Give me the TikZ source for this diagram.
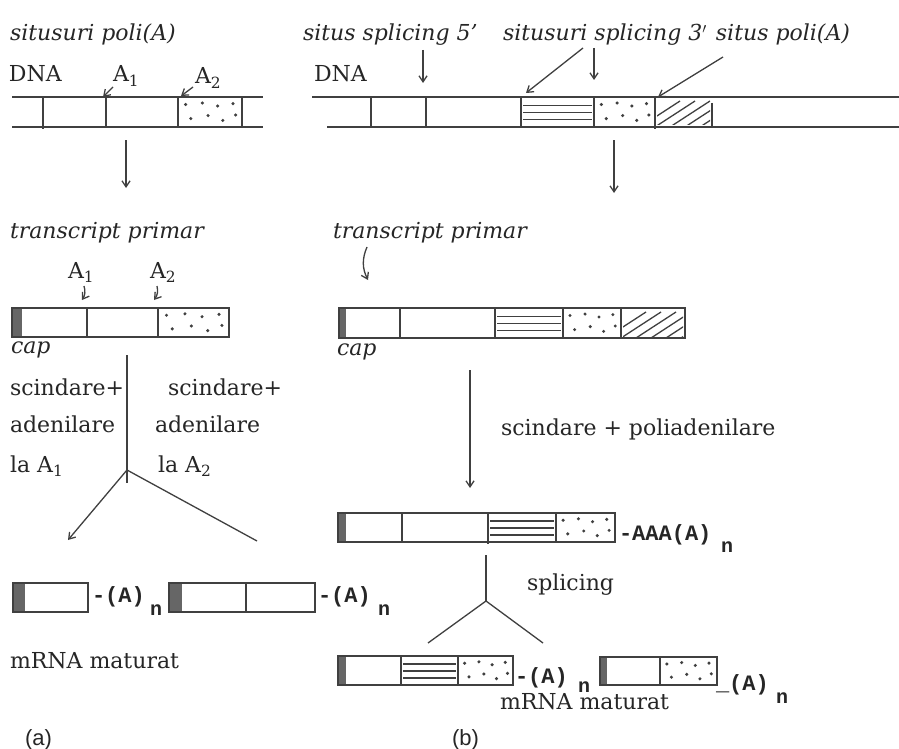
\documentclass[tikz,border=0pt]{standalone}
\usepackage{fontspec}
\setmainfont{DejaVu Serif}
\setsansfont{Liberation Sans}
\setmonofont{Liberation Mono}
\usetikzlibrary{arrows.meta}
\newcommand\capfill[4]{\fill[black!60] (#1,#2) rectangle (#3,#4);}
\newcommand\mydots[4]{%
  \foreach \u/\v in {0.12/0.25,0.38/0.2,0.62/0.3,0.86/0.22,0.2/0.72,0.47/0.62,0.7/0.78,0.9/0.6}{%
    \fill ({#1+\u*(#3-#1)},{#2+\v*(#4-#2)}) circle (1.7);}}
\newcommand\mystripes[4]{%
  \foreach \v in {0.28,0.52,0.76}{%
    \draw ({#1+2},{#2+\v*(#4-#2)}) -- ({#3-2},{#2+\v*(#4-#2)});}}
\newcommand\myhatch[4]{%
  \begin{scope}
    \clip ({#1+2},{#2+2}) rectangle ({#3-2},{#4-2});
    \foreach \k in {-1,...,4}{\draw ({#1+\k*15},{#4}) -- ++(40,-26);}
  \end{scope}}
\newcommand\divider[3]{\draw (#1,#2) -- (#1,#3);}
\begin{document}
\begin{tikzpicture}[x=1pt,y=-1pt,line width=1.3pt,color=black!75,
  every node/.style={inner sep=0pt,outer sep=0pt,text=black!85},
  lbl/.style={anchor=base west,font=\fontsize{22}{25}\selectfont},
  ilbl/.style={anchor=base west,font=\fontsize{22}{25}\selectfont\itshape},
  mono/.style={anchor=base west,font=\fontsize{22}{24}\selectfont\ttfamily\bfseries},
  sublbl/.style={anchor=base west,font=\fontsize{20}{22}\selectfont\ttfamily\bfseries},
  tag/.style={anchor=base west,font=\fontsize{22}{24}\selectfont\sffamily},
  arr/.style={-{Straight Barb[length=6pt,width=8pt]}},
  box/.style={draw,fill=none}]
\fill[white] (0,0) rectangle (899,749);
\useasboundingbox (0,0) rectangle (899,749);

% ================= (a) =================
\node[ilbl] (sitpoliL) at (10,41) {situsuri poli(A)};
\node[lbl] (dnaL) at (9,82) {DNA};
\node[lbl] (a1top) at (113,82) {A\textsubscript{1}};
\node[lbl] (a2top) at (195,84) {A\textsubscript{2}};
% DNA strand left
\draw (12,97) -- (263,97);
\draw (12,127) -- (263,127);
\divider{43}{97}{129}\divider{106}{97}{127}\divider{178}{97}{127}\divider{242}{97}{127}
\mydots{178}{97}{242}{127}
\coordinate (a1s) at (113,87); \coordinate (a1e) at (103,97);
\coordinate (a2s) at (193,87); \coordinate (a2e) at (181,96);
\draw[arr] (a1s) -- (a1e);
\draw[arr] (a2s) -- (a2e);
\coordinate (dnL1) at (126,140); \coordinate (dnL2) at (126,188);
\draw[arr] (dnL1) -- (dnL2);

\node[ilbl] (trL) at (10,238) {transcript primar};
\node[lbl] (a1mid) at (68,278) {A\textsubscript{1}};
\node[lbl] (a2mid) at (150,278) {A\textsubscript{2}};
\coordinate (m1s) at (84,286); \coordinate (m1e) at (82,300);
\coordinate (m2s) at (157,286); \coordinate (m2e) at (154,300);
\draw[arr] (m1s) to[bend left=25] (m1e);
\draw[arr] (m2s) to[bend left=25] (m2e);
% transcript box left
\capfill{12}{308}{22}{337}
\draw (12,308) rectangle (229,337);
\divider{87}{308}{337}\divider{158}{308}{337}
\mydots{158}{308}{229}{337}
\node[ilbl] (capL) at (11,353) {cap};

\coordinate (vL1) at (127,355); \coordinate (vL2) at (127,483);
\coordinate (brL) at (127,470);
\coordinate (brL1) at (68,540); \coordinate (brL2) at (257,541);
\draw (vL1) -- (vL2);
\draw[arr] (brL) -- (brL1);
\draw (brL) -- (brL2);
\node[lbl] (sc1) at (10,395) {scindare+};
\node[lbl] (sc2) at (168,395) {scindare+};
\node[lbl] (ad1) at (10,432) {adenilare};
\node[lbl] (ad2) at (155,432) {adenilare};
\node[lbl] (la1) at (10,472) {la A\textsubscript{1}};
\node[lbl] (la2) at (158,472) {la A\textsubscript{2}};

% mature mRNAs (a)
\capfill{13}{583}{25}{612}
\draw (13,583) rectangle (88,612);
\node[mono] (pa1) at (92,602) {-(A)};
\node[sublbl] (pa1n) at (150,615) {n};
\capfill{169}{583}{182}{612}
\draw (169,583) rectangle (315,612);
\divider{246}{583}{612}
\node[mono] (pa2) at (318,602) {-(A)};
\node[sublbl] (pa2n) at (378,615) {n};
\node[lbl] (mrnaL) at (10,668) {mRNA maturat};
\node[tag] (tagA) at (25,745) {(a)};

% ================= (b) =================
\node[ilbl] (spl5) at (303,41) {situs splicing 5'};
\node[ilbl] (spl3) at (503,41) {situsuri splicing 3$^{\prime}$};
\node[ilbl,anchor=base east] (sitpoliR) at (850,41) {situs poli(A)};
\node[lbl] (dnaR) at (314,82) {DNA};
\coordinate (s5s) at (423,50); \coordinate (s5e) at (423,83);
\coordinate (s3as) at (583,48); \coordinate (s3ae) at (526,93);
\coordinate (s3bs) at (594,48); \coordinate (s3be) at (594,80);
\coordinate (pas) at (723,57); \coordinate (pae) at (658,97);
\draw[arr] (s5s) -- (s5e);
\draw[arr] (s3as) -- (s3ae);
\draw[arr] (s3bs) -- (s3be);
\draw[arr] (pas) -- (pae);
% DNA strand right
\draw (312,97) -- (899,97);
\draw (327,127) -- (899,127);
\divider{371}{97}{127}\divider{426}{97}{127}\divider{521}{97}{127}
\divider{594}{97}{127}\divider{655}{97}{129}\divider{712}{103}{127}
\mystripes{521}{97}{594}{127}
\mydots{594}{97}{655}{127}
\myhatch{655}{97}{712}{127}
\coordinate (dnR1) at (614,140); \coordinate (dnR2) at (614,193);
\draw[arr] (dnR1) -- (dnR2);

\node[ilbl] (trR) at (333,238) {transcript primar};
\coordinate (trRs) at (367,247); \coordinate (trRe) at (368,280);
\draw[arr] (trRs) to[bend right=25] (trRe);
% transcript box right
\capfill{339}{308}{346}{338}
\draw (339,308) rectangle (685,338);
\divider{400}{308}{338}\divider{495}{308}{338}\divider{563}{308}{338}\divider{621}{308}{338}
\mystripes{495}{308}{563}{338}
\mydots{563}{308}{621}{338}
\myhatch{621}{308}{685}{338}
\node[ilbl] (capR) at (337,355) {cap};

\coordinate (vR1) at (470,370); \coordinate (vR2) at (470,488);
\draw[arr] (vR1) -- (vR2);
\node[lbl] (scp) at (501,435) {scindare + poliadenilare};

% polyadenylated transcript
\capfill{338}{513}{346}{542}
\draw (338,513) rectangle (615,542);
\divider{402}{513}{542}\divider{488}{513}{544}\divider{556}{513}{542}
\mystripes{488}{513}{556}{542}
\mydots{556}{513}{615}{542}
\node[mono] (aaa) at (619,540) {-AAA(A)};
\node[sublbl] (aaan) at (721,552) {n};

\coordinate (vS1) at (486,555); \coordinate (brS) at (486,601);
\coordinate (brS1) at (428,643); \coordinate (brS2) at (543,643);
\draw (vS1) -- (brS);
\draw (brS) -- (brS1);
\draw (brS) -- (brS2);
\node[lbl] (spl) at (527,590) {splicing};

% spliced mRNAs (b)
\capfill{338}{656}{346}{685}
\draw (338,656) rectangle (513,685);
\divider{401}{656}{685}\divider{458}{656}{685}
\mystripes{401}{656}{458}{685}
\mydots{458}{656}{513}{685}
\node[mono] (pb1) at (515,683) {-(A)};
\node[sublbl] (pb1n) at (578,692) {n};
\node[lbl] (mrnaR) at (500,709) {mRNA maturat};
\capfill{600}{657}{607}{685}
\draw (600,657) rectangle (717,685);
\divider{660}{657}{685}
\mydots{660}{657}{717}{685}
\node[mono] (pb2) at (716,690) {\_(A)};
\node[sublbl] (pb2n) at (776,703) {n};
\node[tag] (tagB) at (452,745) {(b)};
\end{tikzpicture}
\end{document}
